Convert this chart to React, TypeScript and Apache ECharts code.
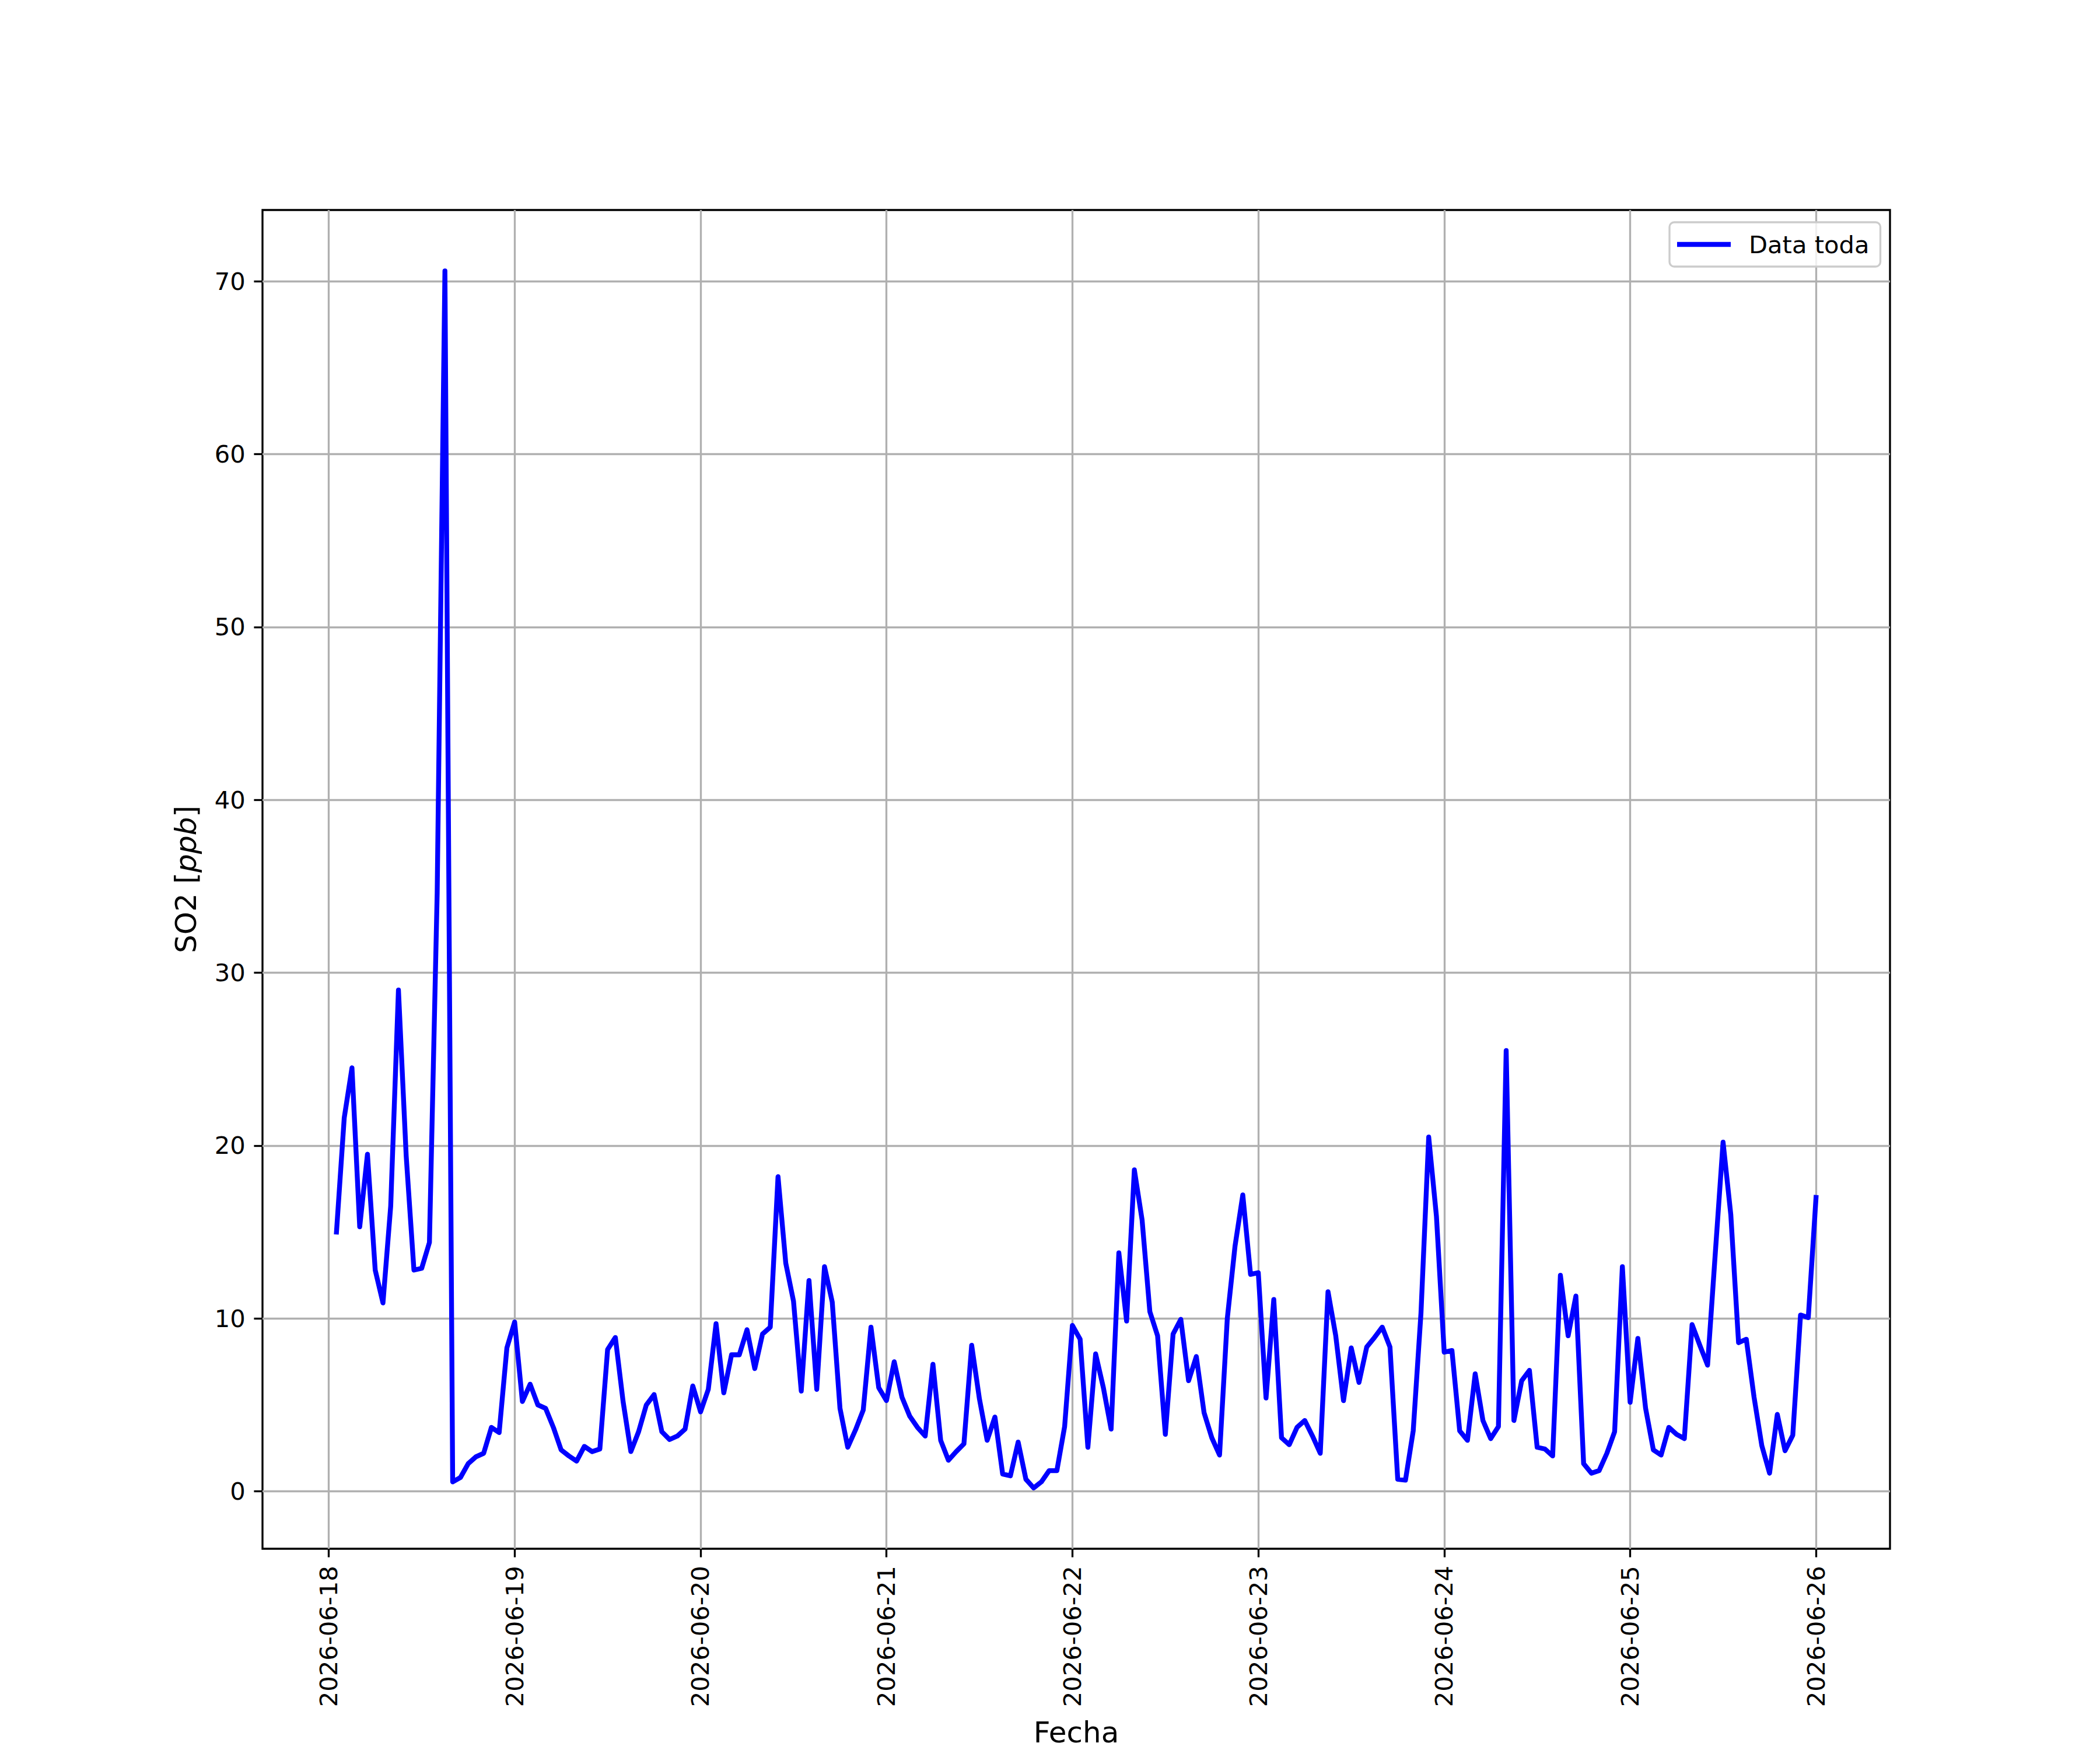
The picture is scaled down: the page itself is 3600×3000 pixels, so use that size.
import React, { useEffect, useRef } from "react";
import * as echarts from "echarts";

// Hourly SO2 values [ppb], first sample 2026-06-18 01:00, one per hour
const FIRST_SAMPLE = "2026-06-18T01:00:00Z";
const STEP_HOURS = 1;

const DAY_18 = [15.0, 21.6, 24.5, 15.3, 19.5, 12.8, 10.9, 16.5, 29.0, 19.4, 12.8, 12.9, 14.4, 34.6, 70.6, 0.55, 0.8, 1.6, 2.0, 2.2, 3.7, 3.4, 8.3, 9.8];
const DAY_19 = [5.2, 6.2, 5.0, 4.8, 3.7, 2.4, 2.05, 1.75, 2.6, 2.3, 2.45, 8.2, 8.9, 5.2, 2.3, 3.45, 5.0, 5.6, 3.45, 3.0, 3.2, 3.6, 6.1, 4.6];
const DAY_20 = [5.9, 9.7, 5.7, 7.9, 7.9, 9.35, 7.1, 9.1, 9.5, 18.2, 13.2, 11.0, 5.8, 12.2, 5.9, 13.0, 10.95, 4.8, 2.55, 3.55, 4.7, 9.5, 6.0, 5.25];
const DAY_21 = [7.5, 5.45, 4.35, 3.7, 3.2, 7.35, 2.95, 1.8, 2.3, 2.75, 8.45, 5.35, 2.95, 4.3, 1.0, 0.9, 2.85, 0.7, 0.2, 0.55, 1.2, 1.2, 3.75, 9.6];
const DAY_22 = [8.8, 2.55, 7.95, 6.0, 3.6, 13.8, 9.85, 18.6, 15.7, 10.4, 9.0, 3.3, 9.1, 9.95, 6.4, 7.8, 4.55, 3.1, 2.1, 10.0, 14.2, 17.15, 12.55, 12.65];
const DAY_23 = [5.4, 11.1, 3.1, 2.7, 3.7, 4.1, 3.2, 2.2, 11.55, 9.0, 5.25, 8.3, 6.3, 8.35, 8.9, 9.5, 8.35, 0.7, 0.65, 3.5, 10.3, 20.5, 15.9, 8.05];
const DAY_24 = [8.15, 3.5, 2.95, 6.8, 4.1, 3.05, 3.75, 25.5, 4.1, 6.4, 7.0, 2.55, 2.45, 2.05, 12.5, 9.0, 11.3, 1.6, 1.05, 1.2, 2.2, 3.45, 13.0, 5.15];
const DAY_25 = [8.85, 4.8, 2.4, 2.1, 3.7, 3.3, 3.05, 9.65, 8.45, 7.3, 13.8, 20.2, 16.0, 8.6, 8.8, 5.45, 2.65, 1.05, 4.45, 2.35, 3.25, 10.2, 10.05, 17.0];

const X_TICK_LABELS = ["2026-06-18", "2026-06-19", "2026-06-20", "2026-06-21", "2026-06-22", "2026-06-23", "2026-06-24", "2026-06-25", "2026-06-26"];
const Y_TICKS = [0, 10, 20, 30, 40, 50, 60, 70];

const SERIES_NAME = "Data toda";
const X_NAME = "Fecha";

const PX = 300 / 72; // points to pixels at 300 dpi
const FONT = "DejaVu Sans";

export default function App() {
  const ref = useRef<HTMLDivElement>(null);

  useEffect(() => {
    if (!ref.current) return;
    const chart = echarts.init(ref.current, null, { renderer: "svg", width: 3600, height: 3000 });

    const values = [...DAY_18, ...DAY_19, ...DAY_20, ...DAY_21, ...DAY_22, ...DAY_23, ...DAY_24, ...DAY_25];
    const t0 = new Date(FIRST_SAMPLE).getTime();
    const data = values.map((v, i) => [t0 + i * STEP_HOURS * 3600e3, v]);
    const tFirst = data[0][0];
    const tLast = data[data.length - 1][0];
    const xMargin = (tLast - tFirst) * 0.05;
    const vMin = Math.min(...values);
    const vMax = Math.max(...values);
    const yMargin = (vMax - vMin) * 0.05;

    const xTickValues = X_TICK_LABELS.map((s) => new Date(s + "T00:00:00Z").getTime());
    const fmtDate = (v: number) => {
      const d = new Date(v);
      const p = (n: number) => String(n).padStart(2, "0");
      return `${d.getUTCFullYear()}-${p(d.getUTCMonth() + 1)}-${p(d.getUTCDate())}`;
    };

    const lw = 0.8 * PX;
    const tickLen = 3.5 * PX;
    const tickPad = 3.5 * PX;
    const fs = 10 * PX;
    const labelFs = 12 * PX;
    const seriesLw = 2 * PX;

    chart.setOption({
      animation: false,
      backgroundColor: "#ffffff",
      textStyle: { fontFamily: FONT },
      grid: {
        left: 450,
        top: 360,
        width: 2790,
        height: 2310,
        containLabel: false,
        show: true,
        borderColor: "#000000",
        borderWidth: lw,
        backgroundColor: "transparent",
      },
      legend: {
        data: [SERIES_NAME],
        icon: "rect",
        left: 2862,
        top: 381,
        orient: "horizontal",
        padding: [14, 19, 14, 13],
        itemWidth: 92,
        itemHeight: seriesLw,
        backgroundColor: "rgba(255,255,255,0.8)",
        borderColor: "#cccccc",
        borderWidth: lw,
        borderRadius: 8,
        selectedMode: false,
        itemStyle: { color: "#0000ff", borderWidth: 0 },
        textStyle: {
          fontFamily: FONT,
          fontSize: fs,
          color: "#000000",
          padding: [0, 0, 0, 26],
          lineHeight: 48,
        },
      },
      xAxis: {
        type: "value",
        min: tFirst - xMargin,
        max: tLast + xMargin,
        name: X_NAME,
        nameLocation: "middle",
        nameGap: 290,
        nameTextStyle: { fontFamily: FONT, fontSize: labelFs, color: "#000000" },
        axisLine: { show: false, onZero: false },
        axisTick: {
          show: true,
          customValues: xTickValues,
          length: tickLen,
          inside: false,
          lineStyle: { color: "#000000", width: lw },
        },
        axisLabel: {
          show: true,
          customValues: xTickValues,
          rotate: 90,
          margin: tickLen + tickPad,
          fontFamily: FONT,
          fontSize: fs,
          color: "#000000",
          formatter: (v: number) => fmtDate(v),
          hideOverlap: false,
        },
        splitLine: { show: true, lineStyle: { color: "#b0b0b0", width: lw } },
      },
      yAxis: {
        type: "value",
        min: vMin - yMargin,
        max: vMax + yMargin,
        name: "SO2 [{i|ppb}]",
        nameLocation: "middle",
        nameRotate: 90,
        nameGap: 106,
        nameTextStyle: {
          fontFamily: FONT,
          fontSize: labelFs,
          color: "#000000",
          rich: { i: { fontFamily: FONT, fontSize: labelFs, fontStyle: "italic", color: "#000000" } },
        },
        axisLine: { show: false, onZero: false },
        axisTick: {
          show: true,
          customValues: Y_TICKS,
          length: tickLen,
          inside: false,
          lineStyle: { color: "#000000", width: lw },
        },
        axisLabel: {
          show: true,
          customValues: Y_TICKS,
          margin: tickLen + tickPad,
          fontFamily: FONT,
          fontSize: fs,
          color: "#000000",
          formatter: (v: number) => String(v),
        },
        splitLine: { show: true, lineStyle: { color: "#b0b0b0", width: lw } },
      },
      series: [
        {
          name: SERIES_NAME,
          type: "line",
          data,
          showSymbol: false,
          symbol: "none",
          silent: true,
          itemStyle: { color: "#0000ff" },
          lineStyle: { color: "#0000ff", width: seriesLw, cap: "square", join: "round" },
          z: 3,
        },
      ],
    });

    return () => chart.dispose();
  }, []);

  return <div ref={ref} style={{ position: "absolute", left: 0, top: 0, width: 3600, height: 3000 }} />;
}
